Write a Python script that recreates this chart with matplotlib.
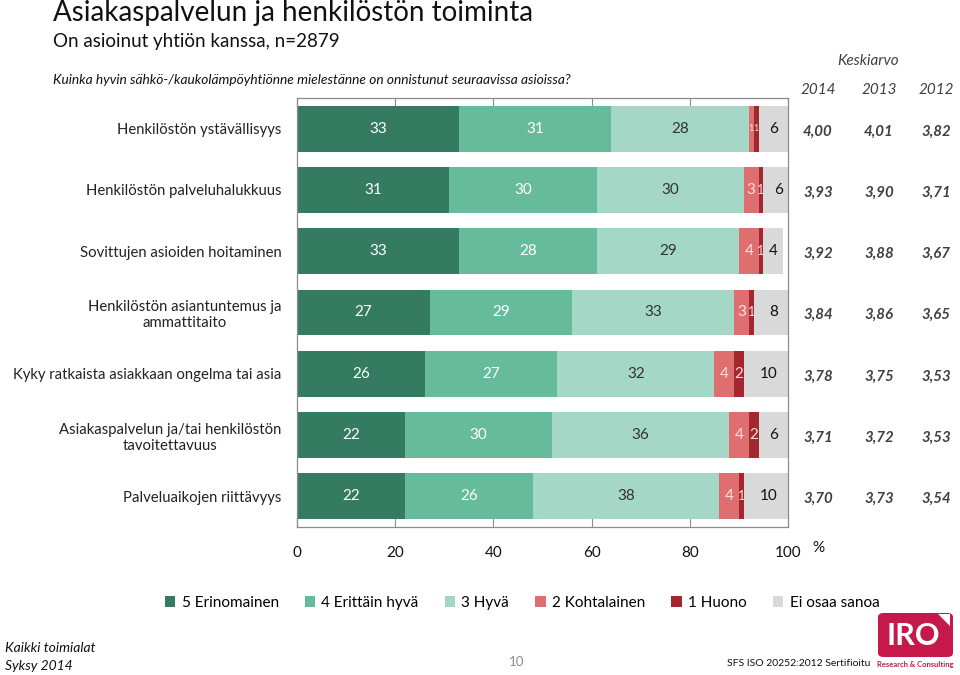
import matplotlib
matplotlib.use("Agg")
import matplotlib.pyplot as plt
import numpy as np
from matplotlib.patches import FancyBboxPatch, Polygon

plt.rcParams['font.family'] = ['Lato', 'DejaVu Sans']

categories = [
    "Henkilöstön ystävällisyys",
    "Henkilöstön palveluhalukkuus",
    "Sovittujen asioiden hoitaminen",
    "Henkilöstön asiantuntemus ja\nammattitaito",
    "Kyky ratkaista asiakkaan ongelma tai asia",
    "Asiakaspalvelun ja/tai henkilöstön\ntavoitettavuus",
    "Palveluaikojen riittävyys",
]
series_names = ["5 Erinomainen", "4 Erittäin hyvä", "3 Hyvä", "2 Kohtalainen", "1 Huono", "Ei osaa sanoa"]
s5 = [33, 31, 33, 27, 26, 22, 22]
s4 = [31, 30, 28, 29, 27, 30, 26]
s3 = [28, 30, 29, 33, 32, 36, 38]
s2 = [1, 3, 4, 3, 4, 4, 4]
s1 = [1, 1, 1, 1, 2, 2, 1]
s0 = [6, 6, 4, 8, 10, 6, 10]
years = ["2014", "2013", "2012"]
mean_2014 = ["4,00", "3,93", "3,92", "3,84", "3,78", "3,71", "3,70"]
mean_2013 = ["4,01", "3,90", "3,88", "3,86", "3,75", "3,72", "3,73"]
mean_2012 = ["3,82", "3,71", "3,67", "3,65", "3,53", "3,53", "3,54"]
xticks = [0, 20, 40, 60, 80, 100]

colors = ["#357B62", "#66BB9B", "#A4D7C6", "#DF6E70", "#A4262F", "#D9D9D9"]
label_colors = ["white", "white", "#333333", "#FBE0E0", "#FBE0E0", "#111111"]

fig = plt.figure(figsize=(9.6, 6.75), dpi=100)
ax = fig.add_axes([297/960, 1-527/675, (788-297)/960, (527-98)/675])

data = [s5, s4, s3, s2, s1, s0]
y = np.arange(len(categories))
left = np.zeros(len(categories))
for i, vals in enumerate(data):
    vals = np.array(vals, dtype=float)
    ax.barh(y, vals, left=left, height=0.75, color=colors[i], label=series_names[i], zorder=2)
    for j, v in enumerate(vals):
        fs = 11 if v >= 2 else (6.5 if (i == 3) or (j == 0) else 9)
        ax.text(left[j] + v/2, y[j], f"{int(v)}", ha='center', va='center',
                color=label_colors[i], fontsize=fs, zorder=3)
    left += vals

ax.set_ylim(len(categories)-0.5, -0.5)
ax.set_xlim(0, 100)
ax.set_yticks(y)
ax.set_yticklabels(categories, fontsize=10.7, color="#222222", multialignment='center')
ax.tick_params(axis='y', length=0, pad=11)
ax.set_xticks(xticks)
ax.set_xticklabels([str(t) for t in xticks], fontsize=11, color="#111111")
ax.tick_params(axis='x', direction='in', length=7, top=True, bottom=True, color="#8C8C8C", pad=14)
for sp in ax.spines.values():
    sp.set_color("#8C8C8C")
    sp.set_linewidth(0.9)

fig.text(818/960, 1-548/675, "%", fontsize=11, ha='center', va='center', color="#111111")

# Means
fig.text(868/960, 1-61/675, "Keskiarvo", fontsize=11, style='italic', ha='center', va='center', color="#404040")
year_x = [818, 879, 936]
for yx, yr in zip(year_x, years):
    fig.text(yx/960, 1-90/675, yr, fontsize=11, style='italic', ha='center', va='center', color="#404040")
for j in range(len(categories)):
    for yx, col in zip(year_x, [mean_2014, mean_2013, mean_2012]):
        ax.annotate(col[j], xy=(yx/960, y[j]), xycoords=('figure fraction', 'data'),
                    xytext=(0, -2), textcoords='offset points',
                    ha='center', va='center', fontsize=10.8, fontweight='bold', style='italic', color="#404040")

# Titles
fig.text(53/960, 1-13/675, "Asiakaspalvelun ja henkilöstön toiminta", fontsize=20, ha='left', va='center', color="#111111")
fig.text(53/960, 1-42/675, "On asioinut yhtiön kanssa, n=2879", fontsize=13.5, ha='left', va='center', color="#111111")
fig.text(53/960, 1-80/675, "Kuinka hyvin sähkö-/kaukolämpöyhtiönne mielestänne on onnistunut seuraavissa asioissa?",
         fontsize=9.9, style='italic', ha='left', va='center', color="#111111")

# Legend
handles, labels = ax.get_legend_handles_labels()
fig.legend(handles, labels, loc='center', bbox_to_anchor=(522/960, 1-603/675), ncol=6, frameon=False,
           fontsize=11, handlelength=0.7, handleheight=0.7, handletextpad=0.4, columnspacing=1.7)

# Footer
fig.text(5/960, 1-648/675, "Kaikki toimialat", fontsize=10, style='italic', ha='left', va='center', color="#111111")
fig.text(5/960, 1-666/675, "Syksy 2014", fontsize=10, style='italic', ha='left', va='center', color="#111111")
fig.text(517/960, 1-662/675, "10", fontsize=9.5, ha='center', va='center', color="#8C8C8C")
fig.text(870/960, 1-663/675, "SFS ISO 20252:2012 Sertifioitu", fontsize=7.5, ha='right', va='center', color="#111111")

# Logo
logo = FancyBboxPatch((878/960, 1-657/675), 75/960, 44/675, boxstyle="round,pad=0,rounding_size=0.006",
                      transform=fig.transFigure, facecolor="#C4194A", edgecolor='none')
fig.patches.append(logo)
tri = Polygon([[938/960, 1-614/675], [950/960, 1-614/675], [950/960, 1-626/675]], closed=True,
              transform=fig.transFigure, facecolor='white', edgecolor='none')
fig.patches.append(tri)
fig.text(913/960, 1-636/675, "IRO", fontsize=22, fontweight='bold', ha='center', va='center', color='white')
fig.text(915/960, 1-665/675, "Research & Consulting", fontsize=5.5, fontweight='bold', ha='center', va='center', color="#C4194A")

fig.savefig("out.png", dpi=100)
